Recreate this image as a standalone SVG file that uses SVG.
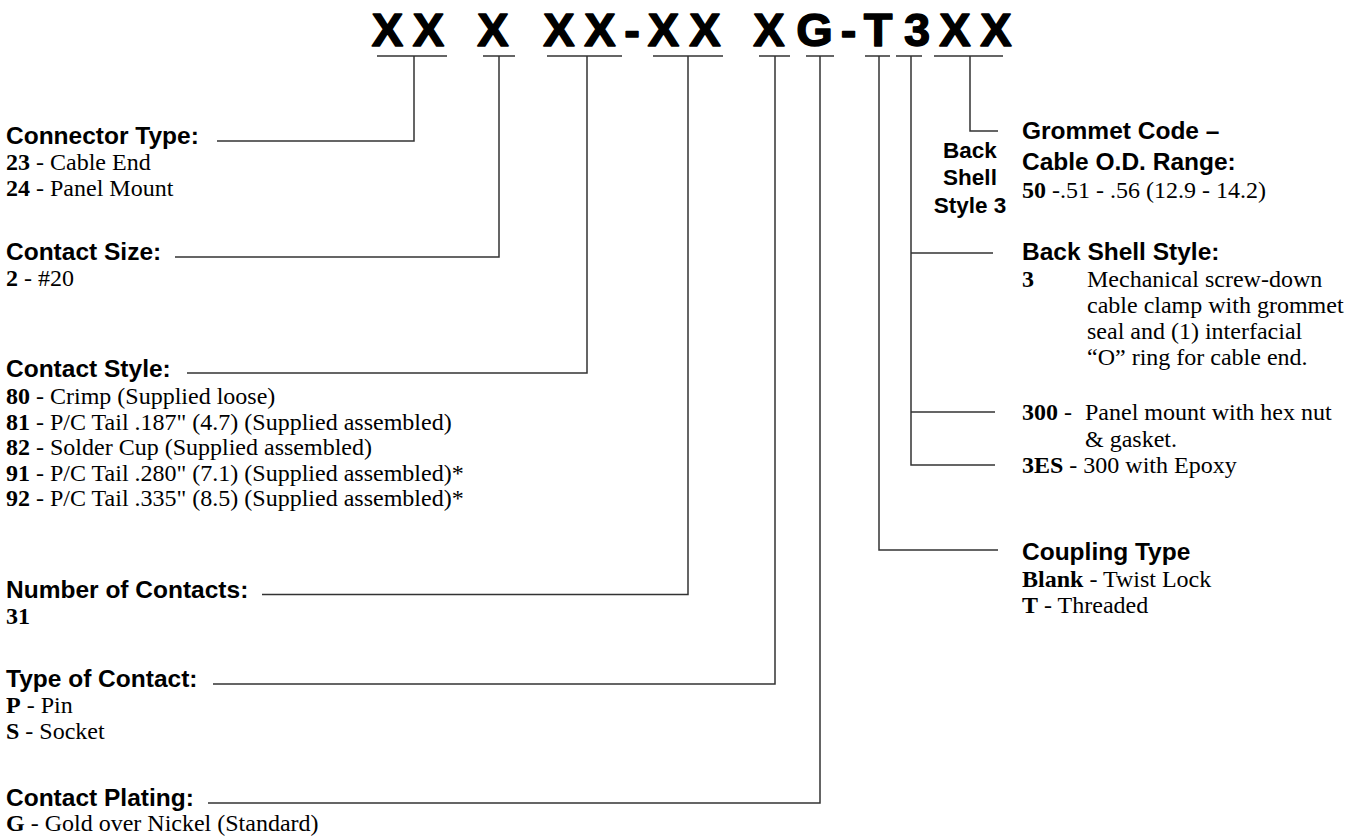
<svg xmlns="http://www.w3.org/2000/svg" width="1362" height="840" viewBox="0 0 1362 840">
<style>
.h{font-family:"Liberation Sans",Arial,sans-serif;font-weight:bold;font-size:24.5px;fill:#000}
.s{font-family:"Liberation Sans",Arial,sans-serif;font-weight:bold;font-size:22.5px;fill:#000;text-anchor:middle}
.b{font-family:"Liberation Serif","Times New Roman",serif;font-size:24px;fill:#000}
.bb{font-weight:bold}
.c{font-family:"Liberation Sans",Arial,sans-serif;font-weight:bold;font-size:47px;fill:#000;stroke:#000;stroke-width:1.4;stroke-linejoin:round;text-anchor:middle}
.ln{stroke:#333;stroke-width:1.5;fill:none}
</style>
<rect width="1362" height="840" fill="#fff"/>
<g id="code">
<text class="c" y="46"><tspan x="387.5">X</tspan><tspan x="428.5">X</tspan><tspan x="493">X</tspan><tspan x="559">X</tspan><tspan x="600">X</tspan><tspan x="632">-</tspan><tspan x="663.5">X</tspan><tspan x="705">X</tspan><tspan x="769">X</tspan><tspan x="814.5">G</tspan><tspan x="848.5">-</tspan><tspan x="878">T</tspan><tspan x="917">3</tspan><tspan x="955">X</tspan><tspan x="996">X</tspan></text>
</g>
<g id="connectors" class="ln">
<path d="M377 56H447M414 56V141H217"/>
<path d="M483 56H515M499 56V257H175"/>
<path d="M547 56H622M587 56V373H187"/>
<path d="M653 56H723M688 56V594.5H262"/>
<path d="M759 56H790M775 56V684H213"/>
<path d="M806 56H834M820 56V803H208"/>
<path d="M865 56H890M879 56V550H998"/>
<path d="M896 56H922M911 56V465H995M911 253H993M911 412H995"/>
<path d="M934 56H1003M970 56V131H998"/>
</g>
<g id="connector-type">
<text class="h" x="6" y="144">Connector Type:</text>
<text class="b" x="6" y="170"><tspan class="bb">23</tspan> - Cable End</text>
<text class="b" x="6" y="196"><tspan class="bb">24</tspan> - Panel Mount</text>
</g>
<g id="contact-size">
<text class="h" x="6" y="260">Contact Size:</text>
<text class="b" x="6" y="286"><tspan class="bb">2</tspan> - #20</text>
</g>
<g id="contact-style">
<text class="h" x="6" y="377">Contact Style:</text>
<text class="b" x="6" y="404"><tspan class="bb">80</tspan> - Crimp (Supplied loose)</text>
<text class="b" x="6" y="429.5"><tspan class="bb">81</tspan> - P/C Tail .187" (4.7) (Supplied assembled)</text>
<text class="b" x="6" y="455"><tspan class="bb">82</tspan> - Solder Cup (Supplied assembled)</text>
<text class="b" x="6" y="480.5"><tspan class="bb">91</tspan> - P/C Tail .280" (7.1) (Supplied assembled)*</text>
<text class="b" x="6" y="506"><tspan class="bb">92</tspan> - P/C Tail .335" (8.5) (Supplied assembled)*</text>
</g>
<g id="number-of-contacts">
<text class="h" x="6" y="598">Number of Contacts:</text>
<text class="b bb" x="6" y="624">31</text>
</g>
<g id="type-of-contact">
<text class="h" x="6" y="687">Type of Contact:</text>
<text class="b" x="6" y="713"><tspan class="bb">P</tspan> - Pin</text>
<text class="b" x="6" y="739"><tspan class="bb">S</tspan> - Socket</text>
</g>
<g id="contact-plating">
<text class="h" x="6" y="806">Contact Plating:</text>
<text class="b" x="6" y="831"><tspan class="bb">G</tspan> - Gold over Nickel (Standard)</text>
</g>
<g id="grommet-code">
<text class="h" x="1022" y="139">Grommet Code –</text>
<text class="h" x="1022" y="170">Cable O.D. Range:</text>
<text class="b" x="1022" y="198"><tspan class="bb">50</tspan> -.51 - .56 (12.9 - 14.2)</text>
</g>
<g id="back-shell-label">
<text class="s" x="970" y="158">Back</text>
<text class="s" x="970" y="185">Shell</text>
<text class="s" x="970" y="213">Style 3</text>
</g>
<g id="back-shell-style">
<text class="h" x="1022" y="260">Back Shell Style:</text>
<text class="b bb" x="1022" y="287">3</text>
<text class="b" x="1087" y="287">Mechanical screw-down</text>
<text class="b" x="1087" y="313">cable clamp with grommet</text>
<text class="b" x="1087" y="339">seal and (1) interfacial</text>
<text class="b" x="1087" y="365">“O” ring for cable end.</text>
<text class="b" x="1022" y="420"><tspan class="bb">300</tspan> -</text>
<text class="b" x="1085" y="420">Panel mount with hex nut</text>
<text class="b" x="1085" y="447">&amp; gasket.</text>
<text class="b" x="1022" y="473"><tspan class="bb">3ES</tspan> - 300 with Epoxy</text>
</g>
<g id="coupling-type">
<text class="h" x="1022" y="560">Coupling Type</text>
<text class="b" x="1022" y="587"><tspan class="bb">Blank</tspan> - Twist Lock</text>
<text class="b" x="1022" y="613"><tspan class="bb">T</tspan> - Threaded</text>
</g>
</svg>
